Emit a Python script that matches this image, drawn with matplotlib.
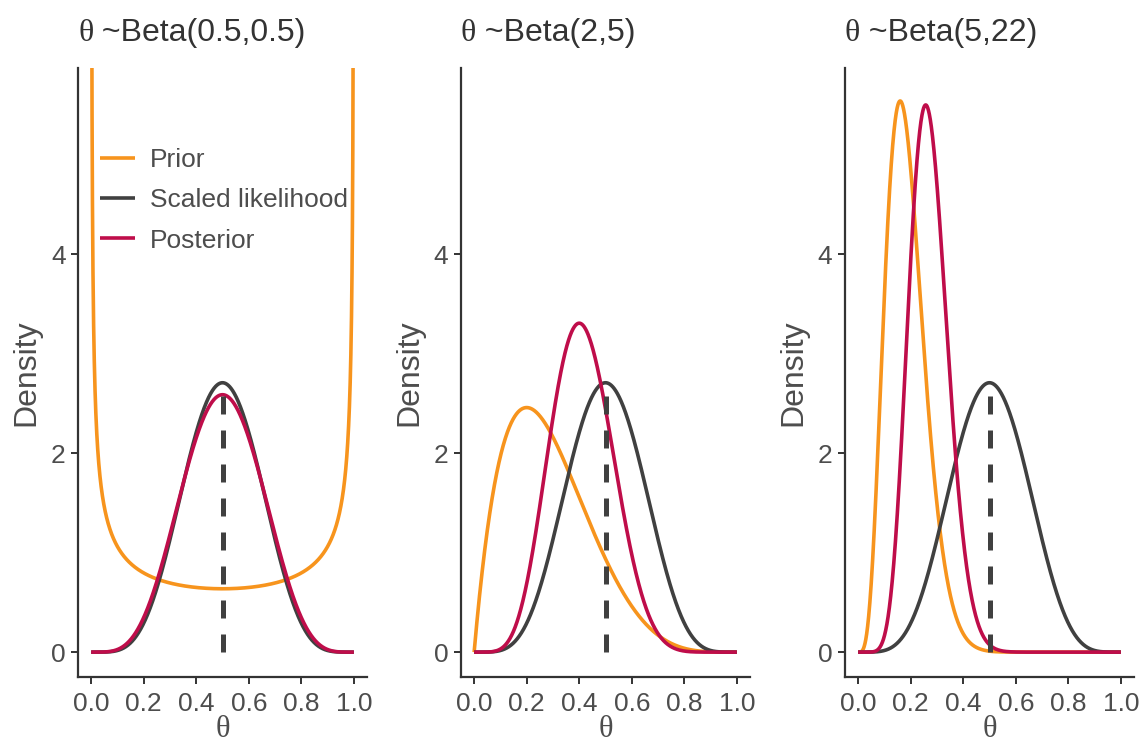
import math
import numpy as np
import matplotlib
matplotlib.use("Agg")
import matplotlib.pyplot as plt

# ---- data ----
prior_a = [0.5, 2, 5]
prior_b = [0.5, 5, 22]
titles = ["Beta(0.5,0.5)", "Beta(2,5)", "Beta(5,22)"]
successes = 5
trials = 10
x_ticks = [0.0, 0.2, 0.4, 0.6, 0.8, 1.0]
x_tick_labels = ["0.0", "0.2", "0.4", "0.6", "0.8", "1.0"]
y_ticks = [0, 2, 4]
mle = 0.5
series_names = ["Prior", "Scaled likelihood", "Posterior"]

col_prior = "#F7941D"
col_lik = "#404040"
col_post = "#BF0D4A"
txt_col = "#4D4D4D"


def beta_pdf(x, a, b):
    lb = math.lgamma(a) + math.lgamma(b) - math.lgamma(a + b)
    with np.errstate(divide="ignore", invalid="ignore"):
        v = np.exp((a - 1) * np.log(x) + (b - 1) * np.log1p(-x) - lb)
    v = np.where(np.isfinite(v), v, 100.0)
    return v


theta = np.linspace(0, 1, 2001)
lik_a, lik_b = successes + 1, trials - successes + 1
lik_peak = beta_pdf(np.array([mle]), lik_a, lik_b)[0]

plt.rcParams["font.family"] = ["Liberation Sans", "DejaVu Sans"]
fig = plt.figure(figsize=(11.43, 7.47), dpi=100)
W, H = 1143, 747
lefts = [78, 461, 845]
ax_w = 289
top_px, bot_px = 68, 677

for i in range(3):
    ax = fig.add_axes([lefts[i] / W, 1 - bot_px / H, ax_w / W, (bot_px - top_px) / H])
    a0, b0 = prior_a[i], prior_b[i]
    prior = beta_pdf(theta, a0, b0)
    lik = beta_pdf(theta, lik_a, lik_b)
    post = beta_pdf(theta, a0 + successes, b0 + trials - successes)
    ax.plot(theta, prior, color=col_prior, lw=2.6, label=series_names[0], solid_capstyle="butt")
    ax.plot(theta, lik, color=col_lik, lw=2.6, label=series_names[1], solid_capstyle="butt")
    ax.plot(theta, post, color=col_post, lw=2.6, label=series_names[2], solid_capstyle="butt")
    ax.plot([mle, mle], [0, lik_peak * 0.95], color=col_lik, lw=3.6, dashes=(3.6, 3.2))
    ax.set_xlim(-0.05, 1.05)
    ax.set_ylim(-0.25, 5.87)
    ax.set_xticks(x_ticks)
    ax.set_xticklabels(x_tick_labels)
    ax.set_yticks(y_ticks)
    for s in ["top", "right"]:
        ax.spines[s].set_visible(False)
    for s in ["left", "bottom"]:
        ax.spines[s].set_color("#333333")
        ax.spines[s].set_linewidth(1.6)
    ax.tick_params(axis="both", colors="#333333", labelcolor=txt_col, labelsize=19,
                   width=1.4, length=5, pad=4)
    ax.tick_params(axis="x", pad=6)
    ax.set_ylabel("Density", fontsize=23, color=txt_col, labelpad=7)
    ax.set_xlabel("θ", fontsize=22, color=txt_col, family="Liberation Serif", labelpad=-1)
    t1 = ax.text(0.0, 1.045, "θ", transform=ax.transAxes, fontsize=23,
                 family="Liberation Serif", color="#333333", ha="left", va="baseline")
    ax.annotate(" ~" + titles[i], xy=(1, 0), xycoords=t1, fontsize=23,
                color="#333333", ha="left", va="bottom")
    if i == 0:
        ax.legend(loc="upper left", bbox_to_anchor=(0.076, 0.868), frameon=False,
                  fontsize=19, handlelength=1.33, handletextpad=0.57,
                  labelcolor=txt_col, borderaxespad=0.0, borderpad=0.0,
                  labelspacing=0.61)

fig.savefig("out.png", dpi=100)
